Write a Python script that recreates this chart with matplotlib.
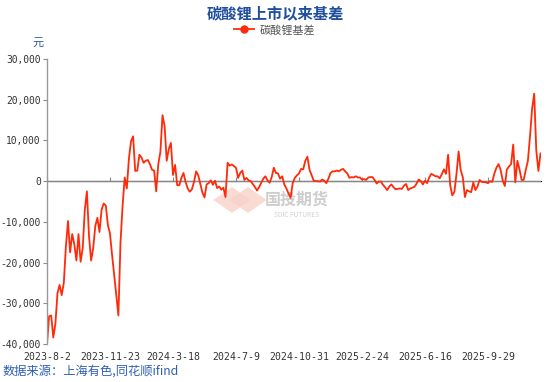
import matplotlib
matplotlib.use("Agg")
import matplotlib.pyplot as plt
from matplotlib.patches import RegularPolygon

plt.rcParams['font.family'] = ['Noto Sans CJK SC', 'DejaVu Sans']

# 基差 (元), thousand-yuan units, evenly spaced trading-day samples
basis_k = [
    -40.0, -33.2, -33.0, -38.4, -35.0, -27.5, -25.5, -28.0, -25.0, -16.0,
    -9.8, -17.5, -13.0, -15.5, -19.5, -13.0, -19.8, -16.5, -7.0, -2.5,
    -13.5, -19.5, -16.5, -11.0, -9.0, -12.5, -7.0, -5.5, -6.0, -10.8,
    -12.9, -18.2, -23.0, -28.0, -33.0, -15.0, -6.0, 0.9, -1.8, 5.5,
    9.8, 11.0, 2.5, 2.6, 6.5, 5.8, 4.5, 5.0, 5.2, 4.2,
    2.8, 2.6, -2.5, 4.2, 7.2, 16.2, 13.5, 5.0, 7.9, 9.4,
    1.5, 4.0, -1.0, -1.0, 0.8, 2.0, -0.2, -1.8, -2.6, -2.0,
    -0.2, 2.4, 1.5, -0.6, -2.8, -4.0, -0.8, -0.5, 0.2, -0.9,
    0.1, -1.7, -1.3, -2.1, -1.6, -3.9, 4.5, 3.8, 4.1, 3.7,
    3.3, 0.8, 2.0, 2.6, 0.3, 0.8, 0.2, 0.0, -0.7, -1.4,
    -2.3, -1.5, -0.4, 0.6, 1.2, 0.2, -0.4, 1.0, 3.3, 2.0,
    1.9, 0.6, 1.2, -0.8, -1.8, -3.0, -4.1, -0.5, 0.8, 1.4,
    1.9, 3.0, 2.9, 5.0, 6.0, 2.8, 1.5, 0.1, 0.0, 0.0,
    -0.1, 0.4, 0.1, -0.5, 0.6, 2.0, 2.4, 2.4, 2.6, 2.4,
    2.8, 3.0, 2.4, 1.9, 0.8, 1.0, 0.9, 1.2, 0.9, 0.9,
    0.4, 0.5, 0.3, 0.9, 1.0, 1.0, 0.3, -0.6, -0.1, -0.1,
    -0.9, -1.5, -2.2, -1.3, -0.8, -1.5, -2.0, -1.9, -1.8, -1.9,
    -1.1, -0.7, -2.2, -1.8, -1.6, -1.4, -0.6, 0.4, 0.0, -0.8,
    0.1, -0.5, 0.9, 1.8, 1.5, 1.2, 1.2, 0.7, 1.7, 2.9,
    1.8, 6.5, -1.0, -3.5, -2.6, 1.8, 7.3, 2.7, 1.0, -3.9,
    -2.2, -2.5, -2.7, -0.3, -2.2, -1.3, 0.3, -0.2, -0.2, -0.3,
    -0.5, 0.0, -0.2, 1.8, 3.3, 4.2, 2.8, 0.2, -1.2, 2.9,
    3.6, 4.2, 9.0, -0.3, 5.0, 2.9, 0.3, 0.3, 2.8, 5.0,
    11.0, 17.8, 21.5, 7.5, 2.5, 6.8,
]
basis = [v * 1000 for v in basis_k]

tick_labels = ['2023-8-2', '2023-11-23', '2024-3-18', '2024-7-9',
               '2024-10-31', '2025-2-24', '2025-6-16', '2025-9-29']
tick_step = 30
y_ticks = [-40000, -30000, -20000, -10000, 0, 10000, 20000, 30000]

fig = plt.figure(figsize=(5.5, 3.82), dpi=100)
ax = fig.add_axes([47/550, 1-344/382, (540.5-47)/550, (344-59)/382])
ax.patch.set_alpha(0)

x = list(range(len(basis)))
line_color = '#ff2a0a'
ax.plot(x, basis, color=line_color, lw=1.3, label='碳酸锂基差')

ax.set_xlim(0, len(basis) - 1)
ax.set_ylim(-40000, 30000)
ax.set_yticks(y_ticks)
ax.set_yticklabels([f'{v:,}' for v in y_ticks], fontfamily='DejaVu Sans Mono',
                   fontsize=6.9, color='#333333')
ax.set_xticks([i * tick_step for i in range(len(tick_labels))])
ax.set_xticklabels(tick_labels, fontfamily='DejaVu Sans Mono', fontsize=7.1, color='#333333')
ax.tick_params(axis='x', length=0, pad=6)
ax.tick_params(axis='y', length=3, color='#888888', width=0.8, pad=1.5)

for s in ['top', 'right', 'bottom']:
    ax.spines[s].set_visible(False)
ax.spines['left'].set_color('#999999')
ax.spines['left'].set_linewidth(1.0)

ax.axhline(0, color='#888888', lw=1.0, zorder=1)
sec = ax.secondary_xaxis(40/70)
sec.set_xticks([i * tick_step for i in range(len(tick_labels))])
sec.set_xticklabels([])
sec.spines['bottom'].set_visible(False)
sec.tick_params(axis='x', direction='out', length=3, color='#888888', width=0.8)

# Title, unit, legend, source
fig.text(0.5, 0.966, '碳酸锂上市以来基差', ha='center', va='center', fontsize=11,
         fontweight='bold', color='#1f4e9e')
fig.text(38/550, 1-43/382, '元', ha='center', va='center', fontsize=8, color='#2f55a4')
leg = fig.legend(handles=[ax.lines[0]], loc='center', bbox_to_anchor=(0.5, 1-30/382),
                 frameon=False, fontsize=8, handlelength=1.8, handletextpad=0.5)
leg.get_lines()[0].set_marker('o')
leg.get_lines()[0].set_markersize(5)
for t in leg.get_texts():
    t.set_color('#555555')
fig.text(0.004, 1-371/382, '数据来源：上海有色,同花顺ifind', ha='left', va='center',
         fontsize=8.8, color='#2f5fb5')

# Watermark (behind the line)
for dx in [0, 16]:
    p = RegularPolygon(((232+dx)/550, 1-200/382), 4, radius=0.034,
                       orientation=0, transform=fig.transFigure,
                       facecolor='#f8d2ca', edgecolor='none', alpha=0.8, zorder=-2)
    fig.patches.append(p)
fig.text(297/550, 1-200/382, '国投期货', ha='center', va='center', fontsize=11.5,
         fontweight='bold', color='#cdcdcd', zorder=-1)
fig.text(297/550, 1-215/382, 'SDIC FUTURES', ha='center', va='center', fontsize=4.8,
         color='#d0d0d0', zorder=-1)

fig.savefig('out.png', dpi=100)
